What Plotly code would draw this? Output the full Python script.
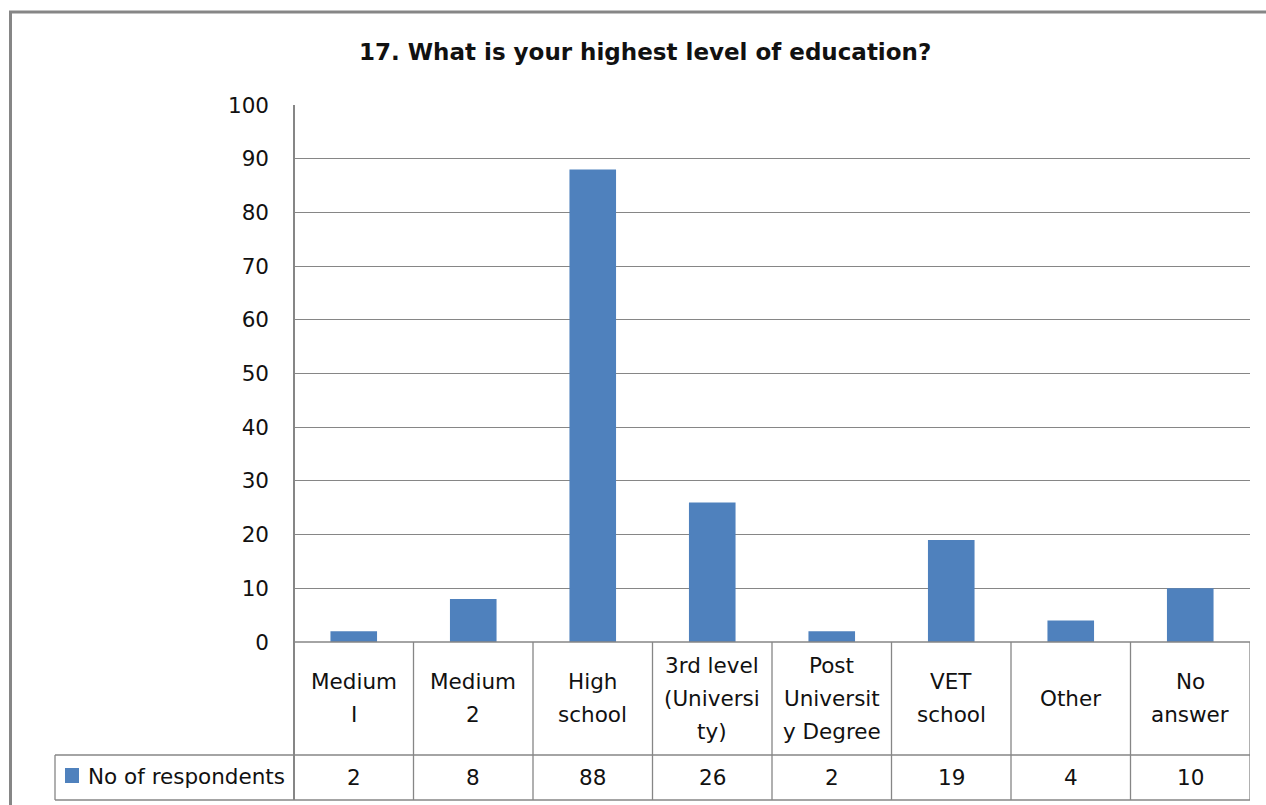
import plotly.graph_objects as go

# Survey question 17: highest level of education
categories = ["Medium I", "Medium 2", "High school", "3rd level (University)",
              "Post University Degree", "VET school", "Other", "No answer"]
# wrapped labels as shown in the data table cells
category_lines = [["Medium", "I"], ["Medium", "2"], ["High", "school"],
                  ["3rd level", "(Universi", "ty)"], ["Post", "Universit", "y Degree"],
                  ["VET", "school"], ["Other"], ["No", "answer"]]
respondents = [2, 8, 88, 26, 2, 19, 4, 10]
series_name = "No of respondents"
title_text = "17. What is your highest level of education?"
y_ticks = list(range(0, 101, 10))

W, H = 1266, 805
FONT = "DejaVu Sans, sans-serif"
BAR = "#4F81BD"
LINE = "#868686"
TEXT = "#111111"


def fx(px):
    return px / W


def fy(py):
    return 1 - py / H


# plot-area edges in pixels
LEFT, RIGHT, TOP, ZERO = 294, 1250, 105, 642
ROW1, ROW2 = 755, 800
LEG_LEFT = 55

fig = go.Figure()
fig.add_trace(go.Bar(
    x=list(range(len(categories))), y=respondents, width=0.39,
    marker=dict(color=BAR, line=dict(width=0)), name=series_name,
    hovertext=categories, showlegend=False,
))

shapes = []


def hline(y, x0, x1, w=1.3):
    shapes.append(dict(type="line", xref="paper", yref="paper",
                       x0=fx(x0), x1=fx(x1), y0=fy(y), y1=fy(y),
                       line=dict(color=LINE, width=w)))


def vline_px(x, y0, y1, w=1.3):
    shapes.append(dict(type="line", xref="paper", yref="paper",
                       x0=fx(x), x1=fx(x), y0=fy(y0), y1=fy(y1),
                       line=dict(color=LINE, width=w)))


# outer chart frame (left and top edges visible)
vline_px(10.5, 11, 810, w=3)
hline(12, 9, 1270, w=3)

# value axis line continuing down through the table
vline_px(LEFT, TOP, ROW2, w=2)
# table rows
hline(ZERO, LEFT, RIGHT, w=1.5)
hline(ROW1, LEG_LEFT, RIGHT)
hline(ROW2, LEG_LEFT, RIGHT)
vline_px(LEG_LEFT, ROW1, ROW2)
# column separators between categories
for i in range(1, len(categories) + 1):
    shapes.append(dict(type="line", xref="x", yref="paper",
                       x0=i - 0.5, x1=i - 0.5, y0=fy(ZERO), y1=fy(ROW2),
                       line=dict(color=LINE, width=1.3)))

# legend key square
shapes.append(dict(type="rect", xref="paper", yref="paper",
                   x0=fx(65), x1=fx(79), y0=fy(768), y1=fy(783),
                   fillcolor=BAR, line=dict(width=0)))

annotations = []
TXT = dict(family=FONT, size=21.5, color=TEXT)
LINE_GAP = 33
CELL_MID = 698
for i, lines in enumerate(category_lines):
    n = len(lines)
    for j, t in enumerate(lines):
        yc = CELL_MID + (j - (n - 1) / 2) * LINE_GAP
        annotations.append(dict(x=i, y=fy(yc), xref="x", yref="paper",
                                text=t, showarrow=False, font=TXT,
                                xanchor="center", yanchor="middle"))
for i, v in enumerate(respondents):
    annotations.append(dict(x=i, y=fy(777), xref="x", yref="paper",
                            text=str(v), showarrow=False, font=TXT,
                            xanchor="center", yanchor="middle"))
annotations.append(dict(x=fx(86), y=fy(776), xref="paper", yref="paper",
                        text=series_name, showarrow=False, font=TXT,
                        xanchor="left", yanchor="middle"))
annotations.append(dict(x=fx(645), y=fy(52), xref="paper", yref="paper",
                        text="<b>" + title_text + "</b>", showarrow=False,
                        font=dict(family=FONT, size=23, color=TEXT),
                        xanchor="center", yanchor="middle"))

fig.update_layout(
    width=W, height=H, autosize=False,
    margin=dict(l=0, r=0, t=0, b=0, autoexpand=False),
    paper_bgcolor="white", plot_bgcolor="white",
    showlegend=False,
    shapes=shapes, annotations=annotations,
    font=dict(family=FONT, size=21.5, color=TEXT),
    xaxis=dict(domain=[fx(LEFT), fx(RIGHT)], range=[-0.5, len(categories) - 0.5],
               showticklabels=False, showgrid=False, zeroline=False,
               showline=False, ticks="", fixedrange=True, automargin=False),
    yaxis=dict(domain=[fy(ZERO), fy(TOP)], range=[0, 100],
               tickvals=y_ticks, ticktext=[str(t) for t in y_ticks],
               showgrid=True, gridcolor=LINE, gridwidth=1,
               zeroline=False, showline=False, ticks="",
               ticklabelstandoff=24, automargin=False,
               tickfont=dict(family=FONT, size=21.5, color=TEXT),
               fixedrange=True),
    bargap=0.6,
)

fig.write_html("out.html")
